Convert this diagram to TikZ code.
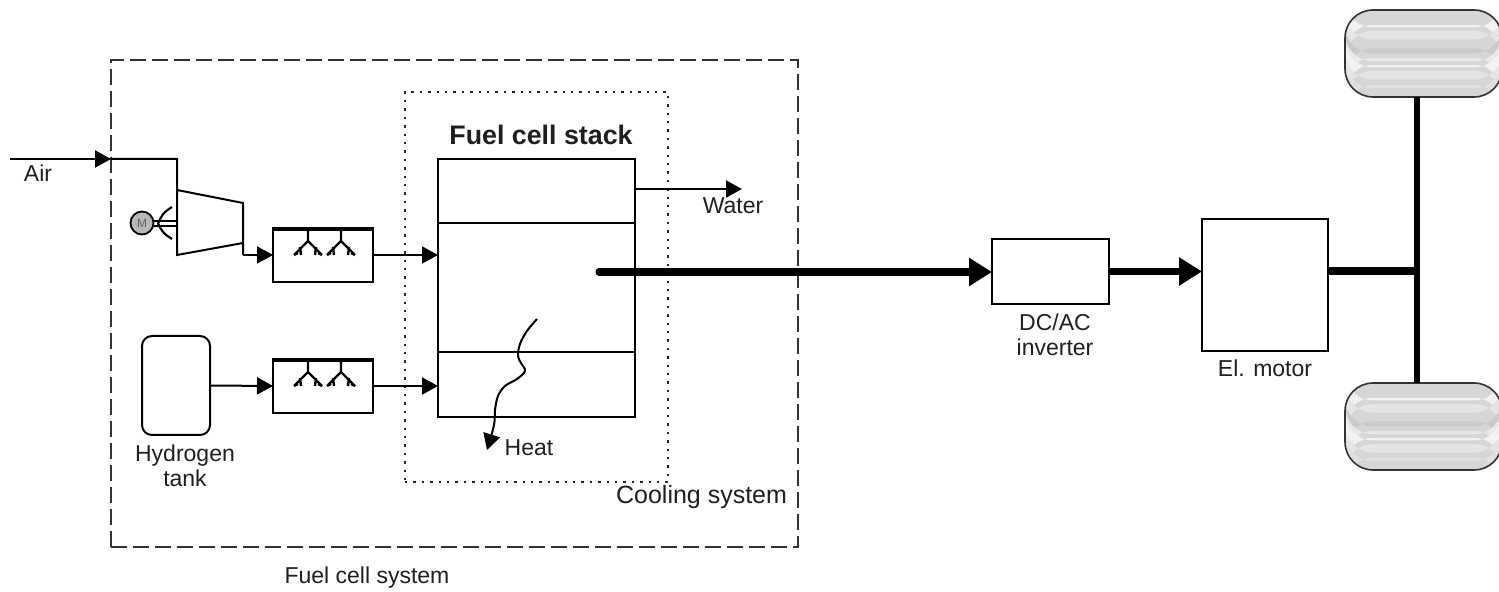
\documentclass[tikz,border=0pt]{standalone}
\usepackage{fontspec}
\setmainfont{Liberation Sans}
\usetikzlibrary{arrows.meta}
\begin{document}
\begin{tikzpicture}[x=0.5pt,y=-0.5pt,
  every node/.style={inner sep=0pt,outer sep=0pt},
  lbl/.style={font=\fontsize{11.5}{12.5}\selectfont,text=black!88,align=center},
  box/.style={draw,line width=1pt},
  thin/.style={line width=1pt},
  flow/.style={line width=1pt,-{Triangle[length=8pt,width=8.5pt]}},
  power/.style={line width=3.6pt,-{Triangle[length=11.5pt,width=13.5pt]}},
  shaft/.style={line width=3.4pt},
  sysbox/.style={draw=black!80,line width=1.3pt,dash pattern=on 8pt off 3pt},
  coolbox/.style={draw=black!85,line width=1.1pt,dash pattern=on 1.2pt off 3pt},
  wheel/.style={draw=black!80,line width=0.8pt,rounded corners=14pt,fill=black!16,
    minimum width=78.5pt,minimum height=43.5pt,
    path picture={
      \foreach \t/\h/\c in {0.17/0.03/black!5,0.24/0.10/black!10,0.44/0.06/black!21,
                            0.55/0.04/black!9,0.63/0.03/black!5,0.70/0.10/black!10,0.86/0.04/black!12}
        \fill[\c] ([yshift=-\t*43.5pt]path picture bounding box.north west)
          rectangle ([yshift=-(\t+\h)*43.5pt]path picture bounding box.north east);
    }},
  fctree/.pic={
    \draw[line width=1.2pt] (0,0) -- (0,12) (-14,26) -- (0,12) -- (14,26)
      (-8,18) -- (-7,26) (8,18) -- (7,26) (-14,26) -- (-10,24) (14,26) -- (10,24);
  }]
\useasboundingbox (0,0) rectangle (1499,592);

% system boundaries
\node[sysbox,minimum width=343.5pt,minimum height=243.5pt] (fcsys) at (454.5,303.5) {};
\node[coolbox,minimum width=131.5pt,minimum height=195pt] (cooling) at (536.5,287) {};
\node[lbl] (fcsyslbl) at (367,578) {Fuel cell system};
\node[lbl,font=\fontsize{12.5}{13}\selectfont,anchor=east] (coollbl) at (787,497) {Cooling system};

% fuel cell stack
\node[box,minimum width=98.5pt,minimum height=129pt] (stack) at (536.5,288) {};
\draw[thin] (438,223) -- (635,223);
\draw[thin] (438,352) -- (635,352);
\node[lbl,font=\bfseries\fontsize{13.4}{14}\selectfont] (stacklbl) at (541,135) {Fuel cell stack};

% air path with compressor
\coordinate (air) at (10,159);
\coordinate (airport) at (111,159);
\coordinate (compout) at (243,255);
\node[lbl] (airlbl) at (38,173) {Air};
\draw[flow] (air) -- (airport);
\draw[thin] (airport) -- (177,159) -- (177,255) -- (243,243);
\draw[thin] (177,190) -- (243,203) -- (compout);

% compressor drive motor
\node[draw,circle,line width=0.9pt,fill=black!28,minimum size=11.5pt,
  font=\fontsize{6}{6}\selectfont,text=black!60] (cmotor) at (142,223) {M};
\draw[line width=0.8pt] (cmotor.east |- 0,221) -- (177,221) (cmotor.east |- 0,226) -- (177,226);
\draw[line width=1.1pt] (172,207) .. controls (163,213) .. (158,223.5) .. controls (163,233) .. (172,239);

% air humidifier
\node[box,minimum width=50pt,minimum height=27pt] (airfilt) at (323,255) {};
\draw[line width=2pt] ([yshift=-0.6pt]airfilt.north west) -- ([yshift=-0.6pt]airfilt.north east);
\pic at (308,229) {fctree};
\pic at (341,229) {fctree};
\draw[flow] (compout) -- (airfilt.west);
\draw[flow] (airfilt.east) -- (airfilt.east -| stack.west);

% hydrogen path
\node[box,rounded corners=5pt,minimum width=34pt,minimum height=49.5pt] (tank) at (176,385.5) {};
\node[lbl] (tanklbl) at (185,466) {Hydrogen\\tank};
\node[box,minimum width=50pt,minimum height=27pt] (h2filt) at (323,386) {};
\draw[line width=2pt] ([yshift=-0.6pt]h2filt.north west) -- ([yshift=-0.6pt]h2filt.north east);
\pic at (308,360) {fctree};
\pic at (341,360) {fctree};
\draw[flow] (tank.east) -- (h2filt.west);
\draw[flow] (h2filt.east) -- (h2filt.east -| stack.west);

% water outlet
\coordinate (water) at (742,189);
\draw[flow] (stack.east |- water) -- (water);
\node[lbl] (waterlbl) at (733,206) {Water};

% heat release
\coordinate (heatsrc) at (537,319);
\coordinate (heattip) at (487,450);
\draw[line width=1pt,-{Triangle[length=8pt,width=8.5pt]}] plot[smooth,tension=0.6] coordinates
  {(heatsrc) (527,331) (520,344) (518,356) (521,363) (525,371) (517,379) (505,386) (498,396) (495,410) (494,425) (heattip)};
\node[lbl] (heatlbl) at (529,448) {Heat};

% electric drive train
\coordinate (dcout) at (599,272);
\node[box,minimum width=58.5pt,minimum height=32.5pt] (inverter) at (1050.5,271.5) {};
\node[lbl] (invlbl) at (1055,335) {DC/AC\\inverter};
\node[box,minimum width=63pt,minimum height=66pt] (motor) at (1265,285) {};
\node[lbl] (motorlbl) at (1265,368) {El. motor};
\draw[power,line cap=round] (dcout) -- (dcout -| inverter.west);
\draw[power] (inverter.east) -- (inverter.east -| motor.west);

% axle and wheels
\node[wheel] (wheeltop) at (1423.5,53.5) {};
\node[wheel] (wheelbot) at (1423.5,426.5) {};
\coordinate (hub) at (1417,271);
\draw[shaft] (wheeltop.south -| hub) -- (wheelbot.north -| hub);
\draw[line width=3.6pt] (motor.east |- hub) -- (hub);
\end{tikzpicture}
\end{document}
